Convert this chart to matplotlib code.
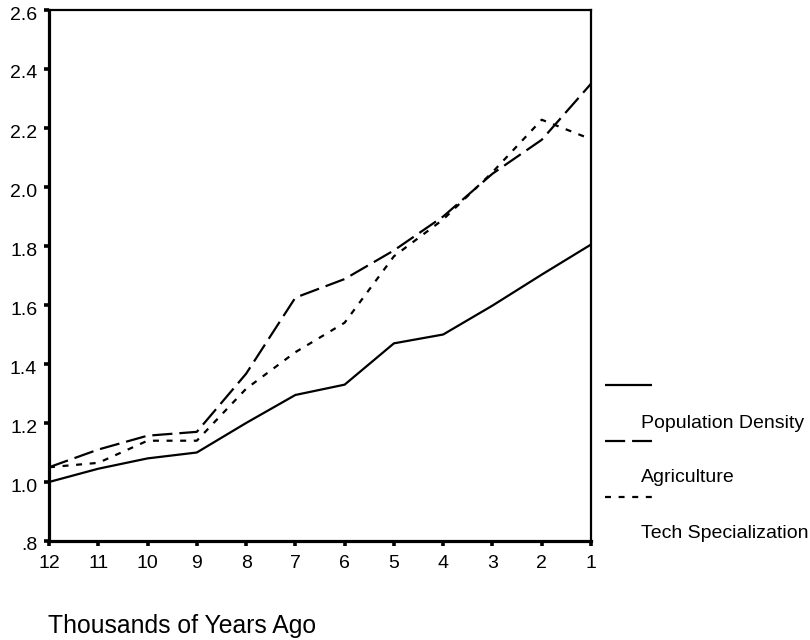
import matplotlib
matplotlib.use("Agg")
import matplotlib.pyplot as plt
import matplotlib.transforms as mtransforms
from matplotlib.lines import Line2D

plt.rcParams['font.family'] = ['Liberation Sans', 'DejaVu Sans']
plt.rcParams['lines.scale_dashes'] = False

years = [12, 11, 10, 9, 8, 7, 6, 5, 4, 3, 2, 1]
population_density = [1.00, 1.045, 1.08, 1.10, 1.20, 1.295, 1.33, 1.47, 1.50, 1.598, 1.703, 1.805]
agriculture = [1.05, 1.11, 1.157, 1.17, 1.367, 1.625, 1.688, 1.785, 1.90, 2.045, 2.16, 2.35]
tech_specialization = [1.05, 1.065, 1.14, 1.14, 1.316, 1.44, 1.54, 1.765, 1.89, 2.05, 2.228, 2.162]
series_names = ["Population Density", "Agriculture", "Tech Specialization"]
y_ticks = [0.8, 1.0, 1.2, 1.4, 1.6, 1.8, 2.0, 2.2, 2.4, 2.6]
y_tick_labels = [".8", "1.0", "1.2", "1.4", "1.6", "1.8", "2.0", "2.2", "2.4", "2.6"]
x_label = "Thousands of Years Ago"

W, H = 810, 640
fig = plt.figure(figsize=(W / 100, H / 100), dpi=100)
ax = fig.add_axes([49 / W, 1 - 541 / H, (591 - 49) / W, (541 - 10) / H])

lw = 1.6
styles = [
    dict(linestyle='-'),
    dict(linestyle=(0, (14.5, 5.0))),
    dict(linestyle=(0, (4.3, 5.5))),
]
data = [population_density, agriculture, tech_specialization]
for vals, st in zip(data, styles):
    ax.plot(years, vals, color='black', lw=lw, solid_capstyle='butt',
            dash_capstyle='butt', **st)

ax.set_xlim(12, 1)
ax.set_ylim(0.8, 2.6)
ax.set_xticks(years)
ax.set_xticklabels([str(y) for y in years])
ax.set_yticks(y_ticks)
ax.set_yticklabels(y_tick_labels)

for side in ['left', 'bottom']:
    ax.spines[side].set_linewidth(2.3)
for side in ['top', 'right']:
    ax.spines[side].set_linewidth(1.6)
ax.tick_params(axis='both', direction='out', length=3.5, width=2.6,
               labelsize=14, colors='black')
ax.tick_params(axis='x', pad=6.5)
ax.tick_params(axis='y', pad=5)

# shift y tick labels slightly downward, as in the reference
offset = mtransforms.ScaledTranslation(0, -3 / 100, fig.dpi_scale_trans)
for lab in ax.get_yticklabels():
    lab.set_transform(lab.get_transform() + offset)

# legend drawn manually (line above, label below and indented)
legend_line_y = [385, 441, 497]
legend_text_y = [424, 478, 533]
for st, ly, ty, name in zip(styles, legend_line_y, legend_text_y, series_names):
    fig.add_artist(Line2D([605 / W, 652 / W], [1 - ly / H, 1 - ly / H],
                          color='black', lw=lw, transform=fig.transFigure,
                          solid_capstyle='butt', dash_capstyle='butt', **st))
    fig.text(641 / W, 1 - ty / H, name, fontsize=14, va='center', ha='left')

fig.text(48 / W, 1 - 626 / H, x_label, fontsize=17.8, va='center', ha='left')

fig.savefig("out.png", dpi=100, facecolor='white')
